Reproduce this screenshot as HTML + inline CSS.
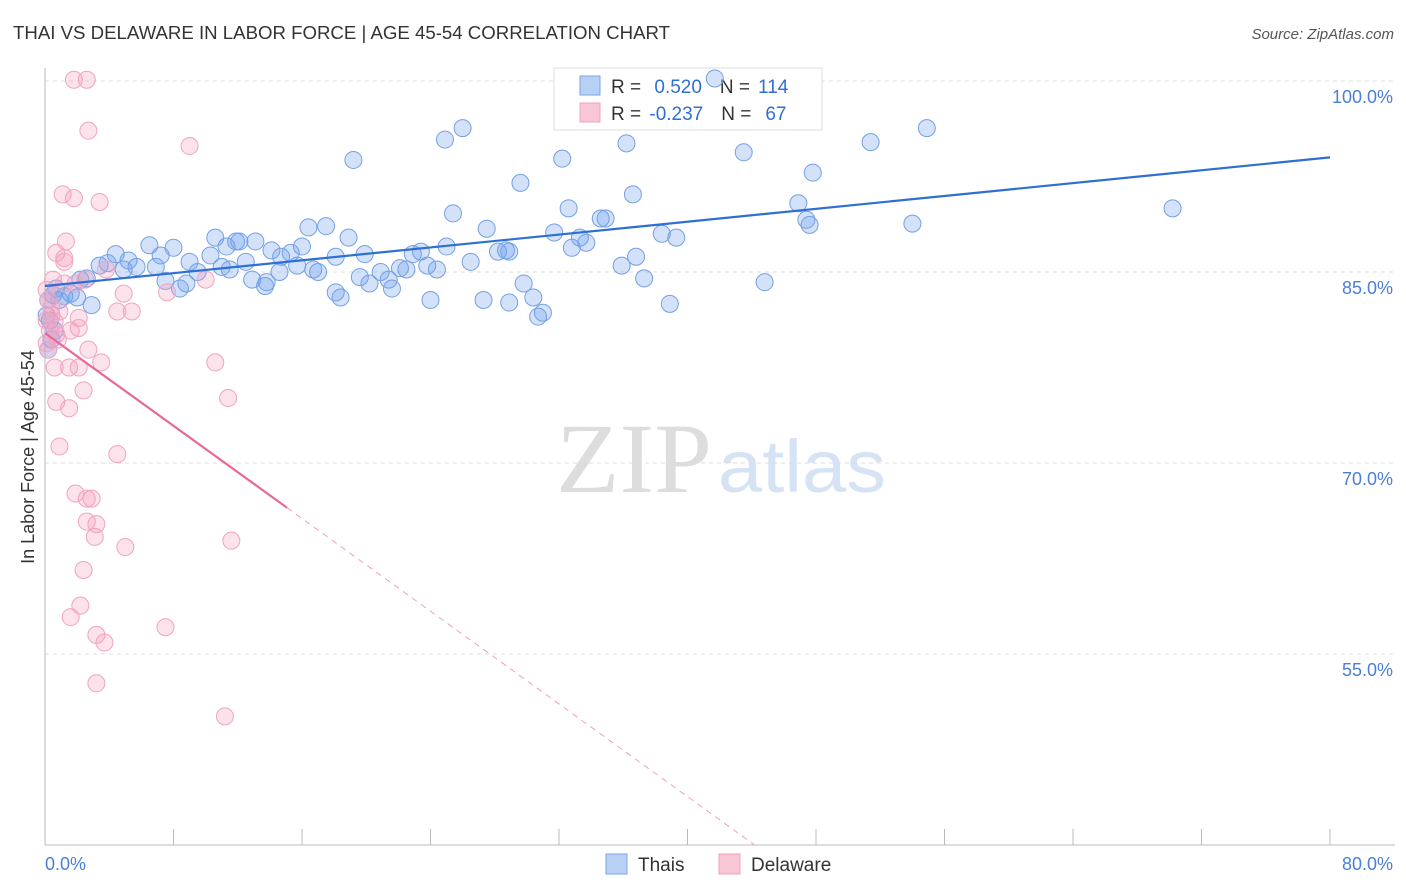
<!DOCTYPE html>
<html><head><meta charset="utf-8"><style>
body{margin:0;background:#fff;font-family:"Liberation Sans",sans-serif;}
svg{display:block}
</style></head><body>
<svg id="chart" width="1406" height="892">
<text x="13" y="39" font-size="18" fill="#333" textLength="657" lengthAdjust="spacingAndGlyphs">THAI VS DELAWARE IN LABOR FORCE | AGE 45-54 CORRELATION CHART</text>
<text x="1394" y="39" font-size="15" fill="#555" font-style="italic" text-anchor="end">Source: ZipAtlas.com</text>
<text x="556" y="492" font-size="100" fill="#ddd" font-family="Liberation Serif,serif" textLength="156" lengthAdjust="spacingAndGlyphs">ZIP</text>
<text x="718" y="492" font-size="74" fill="#d6e3f5" textLength="168" lengthAdjust="spacingAndGlyphs">atlas</text>
<g id="grid"></g><g id="axes"></g>
<g>
<rect x="554" y="68" width="268" height="62" fill="#fff" stroke="#ddd"/>
<rect x="580" y="76" width="20" height="19" fill="#b8d0f4" stroke="#7aa4e6"/>
<rect x="580" y="103" width="20" height="19" fill="#f9c6d6" stroke="#f0a0bc"/>
<text x="611" y="93" font-size="19" fill="#333">R = <tspan fill="#2e6fd4" dx="8">0.520</tspan><tspan dx="18" fill="#333">N =</tspan><tspan dx="8" fill="#2e6fd4">114</tspan></text>
<text x="611" y="120" font-size="19" fill="#333">R = <tspan fill="#2e6fd4" dx="3">-0.237</tspan><tspan dx="18" fill="#333">N =</tspan><tspan dx="14" fill="#2e6fd4">67</tspan></text>
</g>
<g id="pts"></g><g id="trend"></g>
<text transform="translate(34,457) rotate(-90)" font-size="18" fill="#333" text-anchor="middle">In Labor Force | Age 45-54</text>
<text x="45" y="870" font-size="18" fill="#4a7fd6">0.0%</text>
<text x="1393" y="870" font-size="18" fill="#4a7fd6" text-anchor="end">80.0%</text>
<g>
<rect x="606" y="854" width="21" height="20" fill="#b8d0f4" stroke="#7aa4e6"/>
<text x="638" y="871" font-size="19" fill="#333">Thais</text>
<rect x="719" y="854" width="21" height="20" fill="#f9c6d6" stroke="#f0a0bc"/>
<text x="751" y="871" font-size="19" fill="#333">Delaware</text>
</g>
</svg>
<script>
const yTicks=[100,85,70,55];
const yTickLabels=["100.0%","85.0%","70.0%","55.0%"];
const xTicks=[0,8,16,24,32,40,48,56,64,72,80];
const blueX=[41.7,26.0,24.9,19.2,36.2,32.2,43.5,51.4,54.9,29.6,36.6,47.8,25.4,32.6,34.6,34.9,46.9,70.2,54.0,47.4,47.6,27.5,31.7,38.4,39.3,33.3,33.7,32.8,16.4,17.5,18.9,6.5,8.0,10.6,11.9,12.1,13.1,11.3,14.1,16.0,15.3,14.7,10.3,9.0,12.5,4.4,5.2,7.2,5.7,6.9,3.4,3.9,4.9,18.1,19.9,22.9,23.4,25.0,26.5,28.2,28.7,28.9,22.1,22.5,23.8,24.4,20.9,21.4,21.6,19.6,20.2,15.7,14.6,17.0,16.7,12.9,13.8,13.7,11.5,11.0,9.5,8.8,8.4,7.5,35.9,37.3,36.8,29.8,30.4,27.3,28.9,24.0,18.1,18.4,30.7,31.0,38.9,44.8,2.9,2.0,1.2,1.6,2.2,2.6,0.7,0.5,0.2,0.1,0.3,0.2,0.9,0.6,0.4];
const blueY=[100.2,96.3,95.4,93.8,95.1,93.9,94.4,95.2,96.3,92.0,91.1,92.8,89.6,90.0,89.2,89.2,90.4,90.0,88.8,89.1,88.7,88.4,88.1,88.0,87.7,87.7,87.3,86.9,88.5,88.6,87.7,87.1,86.9,87.7,87.4,87.4,87.4,87.0,86.7,87.0,86.5,86.2,86.3,85.8,85.8,86.4,85.9,86.3,85.4,85.4,85.5,85.7,85.2,86.2,86.4,86.4,86.6,87.0,85.8,86.6,86.7,86.6,85.3,85.2,85.5,85.2,85.0,84.4,83.7,84.6,84.1,85.5,85.0,85.0,85.2,84.4,84.2,83.9,85.2,85.4,85.0,84.1,83.7,84.3,85.5,84.5,86.2,84.1,83.0,82.8,82.6,82.8,83.4,83.0,81.5,81.8,82.5,84.2,82.4,83.0,83.1,83.3,84.4,84.5,83.7,83.2,82.8,81.6,81.2,78.9,82.8,80.4,79.7];
const pinkX=[1.8,2.6,2.7,9.0,1.1,1.8,3.4,0.7,1.3,1.2,1.2,0.5,0.1,1.2,1.9,2.5,3.8,4.9,7.6,10.0,4.5,5.4,0.2,0.4,0.1,0.6,2.1,2.1,0.3,0.7,0.8,0.1,0.2,2.7,3.5,10.6,0.6,1.5,2.1,2.4,0.7,1.5,11.4,0.9,4.5,1.9,2.6,2.9,2.6,3.2,3.1,5.0,11.6,2.4,2.2,1.6,7.5,3.2,3.7,3.2,11.2,0.4,0.9,1.6];
const pinkY=[100.1,100.1,96.1,94.9,91.1,90.8,90.5,86.5,87.4,86.1,85.8,84.4,83.6,84.1,84.1,84.4,85.2,83.3,83.4,84.4,81.9,81.9,82.8,82.2,81.2,81.1,81.4,80.6,80.4,80.1,79.7,79.4,78.9,78.9,77.9,77.9,77.5,77.5,77.5,75.7,74.8,74.3,75.1,71.3,70.7,67.6,67.2,67.2,65.4,65.2,64.2,63.4,63.9,61.6,58.8,57.9,57.1,56.5,55.9,52.7,50.1,81.6,81.9,80.4];
const blueTrend=[83.9,94.0];
const pinkTrend=[80.2,-0.91];
const pinkSolidEnd=15.07;

const X=v=>45+v*1285/80;
const Y=v=>81+(100-v)*191/15;
const NS="http://www.w3.org/2000/svg";
function mk(tag,attrs,parent){const e=document.createElementNS(NS,tag);for(const k in attrs)e.setAttribute(k,attrs[k]);document.getElementById(parent).appendChild(e);return e;}

yTicks.forEach((t,i)=>{
  const l=mk('line',{x1:45,x2:1395,y1:Y(t),y2:Y(t),stroke:'#ddd','stroke-dasharray':'4,4'},'grid');
  
  
  const tx=mk('text',{x:1393,y:Y(t)+22,'font-size':18,fill:'#4a7fd6','text-anchor':'end'},'grid');
  tx.textContent=yTickLabels[i];
  
  
});
const ax=mk('line',{x1:45,x2:1395,y1:845,y2:845,stroke:'#bbb'},'axes');


const ay=mk('line',{x1:45,x2:45,y1:68,y2:845,stroke:'#bbb'},'axes');


xTicks.forEach(t=>{
  const l=mk('line',{x1:X(t),x2:X(t),y1:829,y2:845,stroke:'#bbb'},'axes');
  
  
});
blueX.forEach((x,i)=>{
  const c=mk('circle',{cx:X(x),cy:Y(blueY[i]),r:8.5,fill:'rgba(110,160,235,0.3)',stroke:'#74a0e4','stroke-width':1},'pts');
  
  
});
pinkX.forEach((x,i)=>{
  const c=mk('circle',{cx:X(x),cy:Y(pinkY[i]),r:8.5,fill:'rgba(245,160,190,0.3)',stroke:'#f0a4c0','stroke-width':1},'pts');
  
  
});
const bt=mk('line',{x1:X(0),y1:Y(blueTrend[0]),x2:X(80),y2:Y(blueTrend[1]),stroke:'#2e6fd4','stroke-width':2.2},'trend');


const pf=x=>pinkTrend[0]+pinkTrend[1]*x;
const ps=mk('line',{x1:X(0),y1:Y(pf(0)),x2:X(pinkSolidEnd),y2:Y(pf(pinkSolidEnd)),stroke:'#e8689a','stroke-width':2.2},'trend');


const xEnd=(40-pinkTrend[0])/pinkTrend[1];
const pd=mk('line',{x1:X(pinkSolidEnd),y1:Y(pf(pinkSolidEnd)),x2:X(xEnd),y2:Y(40),stroke:'#f0a0bc','stroke-width':1,'stroke-dasharray':'6,5'},'trend');


</script>
</body></html>
